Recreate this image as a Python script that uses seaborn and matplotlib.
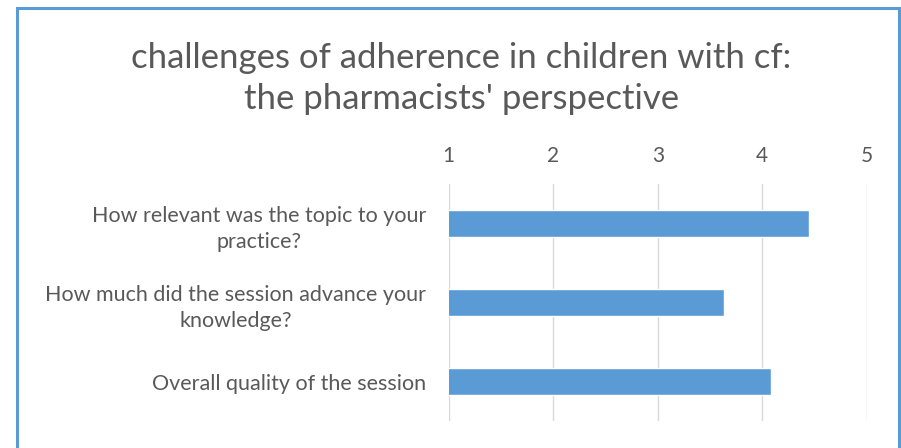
import matplotlib
matplotlib.use('Agg')
import matplotlib.pyplot as plt
import seaborn as sns
import pandas as pd
from matplotlib.patches import Rectangle

# Data
questions = [
    'How relevant was the topic to your\npractice?',
    'How much did the session advance your\nknowledge?',
    'Overall quality of the session',
]
scores = [4.45, 3.63, 4.08]
x_ticks = [1, 2, 3, 4, 5]

df = pd.DataFrame({'question': questions, 'score': scores})

sns.set_theme(style='white')
plt.rcParams['font.family'] = ['Lato', 'DejaVu Sans']
text_color = '#595959'

fig = plt.figure(figsize=(9.01, 4.48), dpi=100)
ax = fig.add_axes([0.498, 0.060, 0.464, 0.529])

sns.barplot(data=df, x='score', y='question', orient='h', color='#5B9BD5',
            width=0.35, saturation=1, ax=ax, zorder=3)

ax.set_xlim(1, 5)
ax.set_ylim(2.5, -0.5)
ax.set_xticks(x_ticks)
ax.set_xticklabels([str(t) for t in x_ticks])
ax.xaxis.tick_top()
ax.tick_params(axis='x', length=0, pad=13, labelsize=15, labelcolor=text_color)
ax.tick_params(axis='y', length=0, pad=16, labelsize=15.5, labelcolor=text_color)
for lbl in ax.get_yticklabels():
    lbl.set_multialignment('center')
    lbl.set_linespacing(1.4)
ax.grid(axis='x', color='#D9D9D9', linewidth=1, zorder=0)
ax.set_xlabel('')
ax.set_ylabel('')
for s in ax.spines.values():
    s.set_visible(False)

# Title
fig.text(0.512, 0.825, "challenges of adherence in children with cf:\nthe pharmacists' perspective",
         ha='center', va='center', fontsize=25, color=text_color, linespacing=1.35)

# Chart border
fig.patches.append(Rectangle((0.019, -0.05), 0.979, 1.033, transform=fig.transFigure,
                             fill=False, edgecolor='#5B9BD5', linewidth=2.2))

fig.savefig('out.png', dpi=100)
